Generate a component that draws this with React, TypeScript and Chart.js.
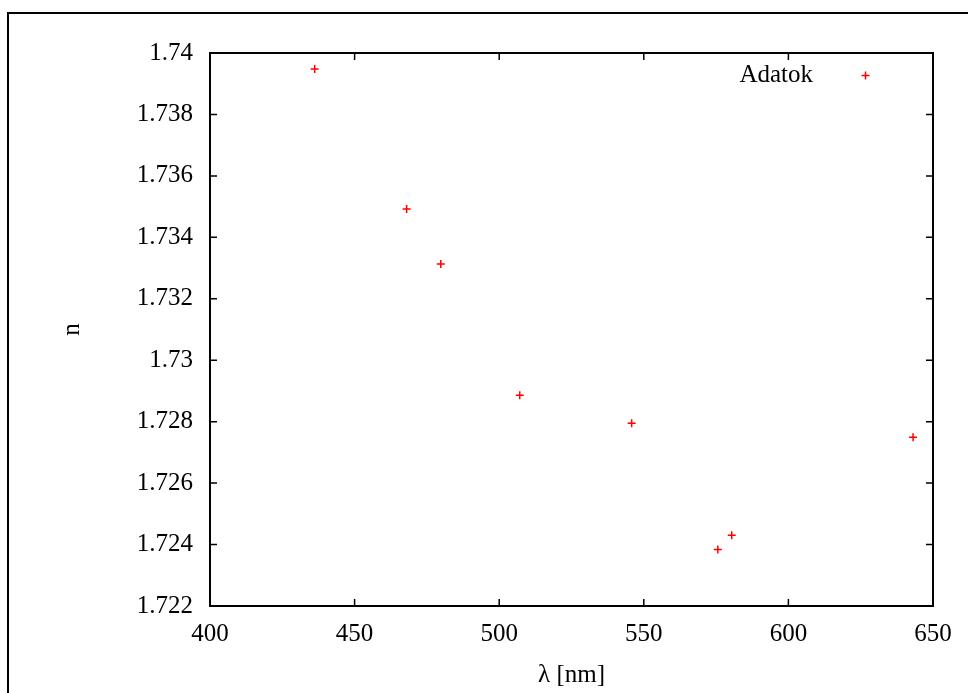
import React, { useEffect, useRef } from "react";
import { Chart, registerables } from "chart.js";

Chart.register(...registerables);

const wavelengths = [436.2, 468.0, 479.8, 507.1, 545.8, 575.6, 580.4, 643.1];
const refractiveIndex = [1.73948, 1.73492, 1.73313, 1.72886, 1.72795, 1.72384, 1.7243, 1.72749];
const seriesLabel = "Adatok";
const xTitle = "λ [nm]";
const yTitle = "n";
const xRange = [400, 650, 50];
const yRange = [1.722, 1.74, 0.002];

const FONT = "'Liberation Serif', 'Times New Roman', serif";
const FSIZE = 25;

const framePlugin = {
  id: "gnuplotFrame",
  afterDraw(chart: any) {
    const { ctx, chartArea } = chart;
    const { left, right, top, bottom } = chartArea;
    ctx.save();
    // outer frame (top + left only)
    ctx.strokeStyle = "#000";
    ctx.lineWidth = 2;
    ctx.beginPath();
    ctx.moveTo(8, 693);
    ctx.lineTo(8, 13);
    ctx.lineTo(968, 13);
    ctx.stroke();
    // plot border
    ctx.strokeRect(left, top, right - left, bottom - top);
    // inward ticks
    const tl = 7;
    ctx.lineWidth = 1.5;
    ctx.beginPath();
    const xs = chart.scales.x;
    xs.ticks.forEach((t: any) => {
      const px = xs.getPixelForValue(t.value);
      ctx.moveTo(px, bottom);
      ctx.lineTo(px, bottom - tl);
      ctx.moveTo(px, top);
      ctx.lineTo(px, top + tl);
    });
    const ys = chart.scales.y;
    ys.ticks.forEach((t: any) => {
      const py = ys.getPixelForValue(t.value);
      ctx.moveTo(left, py);
      ctx.lineTo(left + tl, py);
      ctx.moveTo(right, py);
      ctx.lineTo(right - tl, py);
    });
    ctx.stroke();
    // legend
    ctx.fillStyle = "#000";
    ctx.font = `${FSIZE}px ${FONT}`;
    ctx.textAlign = "right";
    ctx.textBaseline = "middle";
    ctx.fillText(seriesLabel, 813, 75);
    ctx.strokeStyle = "#ff0000";
    ctx.lineWidth = 1.5;
    const cx = 865.5, cy = 75.5, r = 4;
    ctx.beginPath();
    ctx.moveTo(cx - r, cy);
    ctx.lineTo(cx + r, cy);
    ctx.moveTo(cx, cy - r);
    ctx.lineTo(cx, cy + r);
    ctx.stroke();
    ctx.restore();
  },
};

export default function App() {
  const ref = useRef<HTMLCanvasElement | null>(null);
  useEffect(() => {
    if (!ref.current) return;
    const chart = new Chart(ref.current, {
      type: "scatter",
      data: {
        datasets: [
          {
            label: seriesLabel,
            data: wavelengths.map((x, i) => ({ x, y: refractiveIndex[i] })),
            pointStyle: "cross",
            pointRadius: 4,
            pointBorderWidth: 1.5,
            borderColor: "#ff0000",
            backgroundColor: "#ff0000",
            showLine: false,
          },
        ],
      },
      options: {
        animation: false,
        responsive: false,
        devicePixelRatio: 1,
        layout: { padding: { top: 53, right: 35, left: 0, bottom: 0 } },
        plugins: { legend: { display: false }, tooltip: { enabled: false } },
        scales: {
          x: {
            type: "linear",
            min: xRange[0],
            max: xRange[1],
            ticks: {
              stepSize: xRange[2],
              color: "#000",
              font: { family: FONT, size: FSIZE },
              padding: 13,
              maxRotation: 0,
            },
            grid: { display: false, drawTicks: false },
            border: { display: false },
            title: {
              display: true,
              text: xTitle,
              color: "#000",
              font: { family: FONT, size: FSIZE },
              padding: { top: 0, bottom: 3 },
            },
            afterFit: (s: any) => {
              s.height = 87;
            },
          },
          y: {
            type: "linear",
            min: yRange[0],
            max: yRange[1],
            ticks: {
              stepSize: yRange[2],
              color: "#000",
              font: { family: FONT, size: FSIZE },
              padding: 17,
              callback: (v: any) => String(Number(Number(v).toFixed(3))),
            },
            grid: { display: false, drawTicks: false },
            border: { display: false },
            title: {
              display: true,
              text: yTitle,
              color: "#000",
              font: { family: FONT, size: FSIZE },
              padding: { top: 57, bottom: 0 },
            },
            afterFit: (s: any) => {
              s.width = 210;
            },
          },
        },
      },
      plugins: [framePlugin],
    });
    return () => chart.destroy();
  }, []);
  return (
    <div style={{ position: "fixed", left: 0, top: 0, width: 968, height: 693, background: "#fff" }}>
      <canvas ref={ref} width={968} height={693} style={{ width: 968, height: 693, display: "block" }} />
    </div>
  );
}
